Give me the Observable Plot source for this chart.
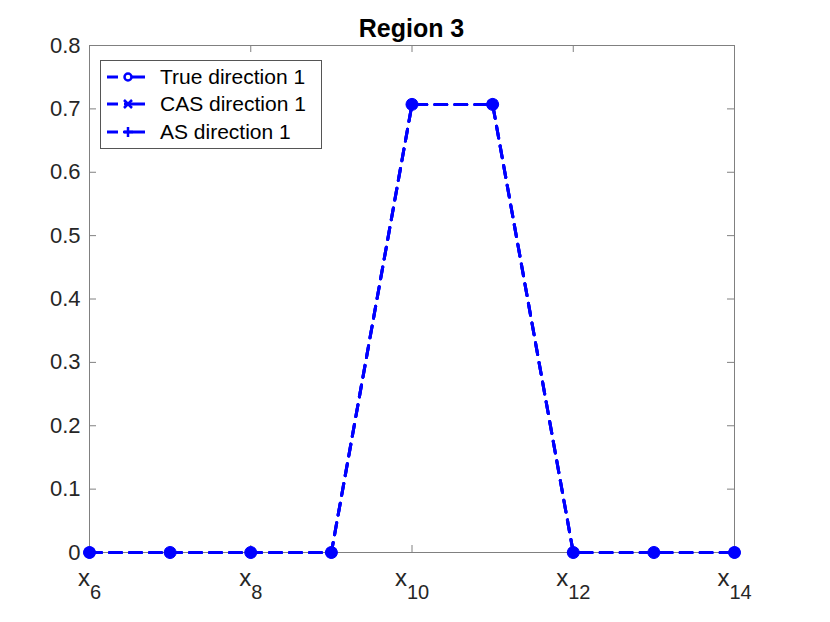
<!DOCTYPE html>
<html><head><meta charset="utf-8">
<script src="https://cdn.jsdelivr.net/npm/d3@7"></script>
<script src="https://cdn.jsdelivr.net/npm/@observablehq/plot@0.6"></script>
<style>
body{margin:0;background:#fff;}
#wrap{position:relative;width:830px;height:622px;font-family:"Liberation Sans",Arial,sans-serif;background:#fff;}
#title{position:absolute;left:89px;width:645px;top:16px;text-align:center;font-weight:bold;font-size:25px;line-height:25px;color:#000;}
#chart{position:absolute;left:0;top:25px;}
#legend{position:absolute;left:100px;top:60px;}
</style></head><body>
<div id="wrap"><div id="title">Region 3</div><div id="chart"></div><div id="legend"></div></div>
<script>
const xIndex = [6, 7, 8, 9, 10, 11, 12, 13, 14];
const trueDirection1 = [0, 0, 0, 0, 0.7071, 0.7071, 0, 0, 0];
const casDirection1  = [0, 0, 0, 0, 0.7071, 0.7071, 0, 0, 0];
const asDirection1   = [0, 0, 0, 0, 0.7071, 0.7071, 0, 0, 0];
const seriesNames = ["True direction 1", "CAS direction 1", "AS direction 1"];
const xTicks = [6, 8, 10, 12, 14];
const xTickSubs = ["6", "8", "10", "12", "14"];
const yTicks = [0, 0.1, 0.2, 0.3, 0.4, 0.5, 0.6, 0.7, 0.8];

const seriesValues = [trueDirection1, casDirection1, asDirection1];
const rows = [];
seriesValues.forEach((vals, s) => vals.forEach((v, i) => rows.push({x: xIndex[i], y: v, series: seriesNames[s]})));

const blue = "#0000ff";
const axisGray = "#808080";

const chart = Plot.plot({
  width: 830,
  height: 597,
  marginTop: 20,
  marginBottom: 70,
  marginLeft: 89,
  marginRight: 96,
  style: {fontFamily: "Liberation Sans, Arial, sans-serif", background: "transparent"},
  x: {type: "linear", domain: [6, 14], axis: null, label: null},
  y: {type: "linear", domain: [0, 0.8], axis: null, label: null},
  marks: [
    Plot.frame({stroke: axisGray, strokeWidth: 1}),
    Plot.tickX(xTicks, {x: d => d, insetTop: 500, stroke: axisGray}),
    Plot.tickX(xTicks, {x: d => d, insetBottom: 500, stroke: axisGray}),
    Plot.tickY(yTicks, {y: d => d, insetRight: 638, stroke: axisGray}),
    Plot.tickY(yTicks, {y: d => d, insetLeft: 638, stroke: axisGray}),
    Plot.axisY({ticks: yTicks, tickSize: 0, tickPadding: 9, fontSize: 22, fill: "#262626", label: null,
      tickFormat: d => d === 0 ? "0" : d.toFixed(1)}),
    Plot.text(xTicks, {x: d => d, frameAnchor: "bottom", lineAnchor: "top", dy: 16,
      text: d => "x", fontSize: 24, fill: "#262626", textAnchor: "middle"}),
    Plot.line(rows, {x: "x", y: "y", z: "series", stroke: blue, strokeWidth: 3, strokeDasharray: "12,8"}),
    Plot.dot(rows.filter(r => r.series === seriesNames[0]), {x: "x", y: "y", r: 6, fill: blue, stroke: blue, strokeWidth: 1}),
    Plot.dot(rows.filter(r => r.series === seriesNames[1]), {x: "x", y: "y", r: 4, symbol: "times", stroke: blue, strokeWidth: 2}),
    Plot.dot(rows.filter(r => r.series === seriesNames[2]), {x: "x", y: "y", r: 4, symbol: "plus", stroke: blue, strokeWidth: 2})
  ]
});
document.getElementById("chart").appendChild(chart);

// subscripts for x tick labels
const ns = "http://www.w3.org/2000/svg";
const xTexts = Array.from(chart.querySelectorAll("text")).filter(t => t.textContent === "x");
xTexts.forEach((t, i) => {
  const ts = document.createElementNS(ns, "tspan");
  ts.setAttribute("dy", "13");
  ts.setAttribute("font-size", "20");
  ts.textContent = xTickSubs[i];
  t.appendChild(ts);
});

// legend
const lw = 222, lh = 89;
const lsvg = d3.select("#legend").append("svg").attr("width", lw).attr("height", lh)
  .style("font-family", "Liberation Sans, Arial, sans-serif");
lsvg.append("rect").attr("x", 0.5).attr("y", 0.5).attr("width", lw - 1).attr("height", lh - 1)
  .attr("fill", "#fff").attr("stroke", "#555").attr("stroke-width", 1);
const rowY = [17, 44, 72];
seriesNames.forEach((name, i) => {
  const g = lsvg.append("g").attr("transform", `translate(0,${rowY[i]})`);
  g.append("line").attr("x1", 7).attr("x2", 45).attr("y1", 0).attr("y2", 0)
    .attr("stroke", blue).attr("stroke-width", 3).attr("stroke-dasharray", "11,6,30");
  if (i === 0) {
    g.append("circle").attr("cx", 28).attr("cy", 0).attr("r", 3.5).attr("fill", "#fff").attr("stroke", blue).attr("stroke-width", 2.5);
  } else if (i === 1) {
    g.append("path").attr("d", "M24,-4L32,4M24,4L32,-4").attr("stroke", blue).attr("stroke-width", 2.5);
  } else {
    g.append("path").attr("d", "M28,-5L28,5M23,0L33,0").attr("stroke", blue).attr("stroke-width", 2.5);
  }
  g.append("text").attr("x", 60).attr("y", 0).attr("dy", "0.35em").attr("font-size", 21).attr("fill", "#000").text(name);
});
</script>
</body></html>
